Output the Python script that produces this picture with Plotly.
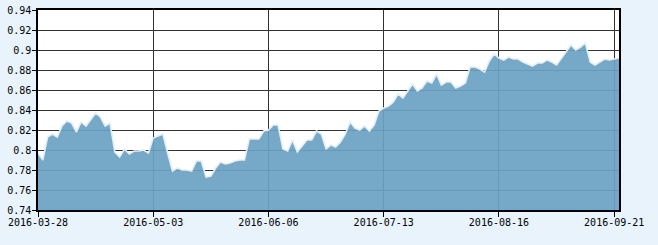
import plotly.graph_objects as go

# Net value series (one value per trading day)
values = [
    0.797, 0.790, 0.813, 0.816, 0.813, 0.824, 0.829, 0.827, 0.818, 0.828,
    0.824, 0.831, 0.837, 0.833, 0.824, 0.827, 0.798, 0.793, 0.801, 0.796,
    0.799, 0.799, 0.800, 0.797, 0.812, 0.814, 0.816, 0.797, 0.779, 0.782,
    0.780, 0.780, 0.779, 0.789, 0.789, 0.773, 0.774, 0.782, 0.788, 0.786,
    0.787, 0.789, 0.790, 0.790, 0.811, 0.811, 0.811, 0.819, 0.820, 0.825,
    0.825, 0.801, 0.799, 0.810, 0.798, 0.804, 0.810, 0.810, 0.819, 0.816,
    0.801, 0.805, 0.803, 0.808, 0.816, 0.828, 0.822, 0.820, 0.824, 0.819,
    0.825, 0.839, 0.842, 0.844, 0.848, 0.856, 0.852, 0.859, 0.866, 0.859,
    0.862, 0.869, 0.867, 0.876, 0.865, 0.868, 0.868, 0.862, 0.864, 0.867,
    0.883, 0.883, 0.881, 0.878, 0.889, 0.896, 0.892, 0.890, 0.893, 0.891,
    0.891, 0.888, 0.886, 0.884, 0.887, 0.887, 0.890, 0.888, 0.885, 0.892,
    0.899, 0.905, 0.900, 0.903, 0.907, 0.888, 0.885, 0.888, 0.891, 0.890,
    0.891, 0.892,
]
x_index = list(range(len(values)))

x_tick_index = [0, 24, 48, 72, 96, 120]
x_tick_labels = ["2016-03-28", "2016-05-03", "2016-06-06",
                 "2016-07-13", "2016-08-16", "2016-09-21"]

y_tick_values = [0.74, 0.76, 0.78, 0.80, 0.82, 0.84, 0.86, 0.88, 0.90, 0.92, 0.94]
y_tick_labels = ["0.74", "0.76", "0.78", "0.8", "0.82", "0.84",
                 "0.86", "0.88", "0.9", "0.92", "0.94"]

fig = go.Figure()
fig.add_trace(go.Scatter(
    x=x_index, y=values, mode="lines",
    fill="tozeroy",
    fillcolor="rgba(106,161,194,0.92)",
    line=dict(color="rgba(222,240,252,1)", width=1.6),
    hoverinfo="skip",
))

font = dict(family="DejaVu Sans Mono, monospace", size=10, color="#000000")

fig.update_layout(
    width=658, height=245,
    margin=dict(l=38, r=39, t=10, b=35, autoexpand=False),
    paper_bgcolor="#e8f3fc",
    plot_bgcolor="#ffffff",
    showlegend=False,
    font=font,
    xaxis=dict(
        range=[0, len(values) - 1],
        tickvals=x_tick_index, ticktext=x_tick_labels,
        showgrid=True, gridcolor="#333333", gridwidth=1,
        showline=True, linecolor="#000000", linewidth=1.5, mirror=True,
        ticks="outside", ticklen=5, tickcolor="#000000",
        ticklabelstandoff=-3,
        zeroline=False, tickfont=font, automargin=False,
    ),
    yaxis=dict(
        range=[0.74, 0.94],
        tickvals=y_tick_values, ticktext=y_tick_labels,
        showgrid=True, gridcolor="#333333", gridwidth=1,
        showline=True, linecolor="#000000", linewidth=1.5, mirror=True,
        ticks="outside", ticklen=4, tickcolor="#000000",
        ticklabelstandoff=-1,
        zeroline=False, tickfont=font, automargin=False,
    ),
)

fig.write_html("out.html")
